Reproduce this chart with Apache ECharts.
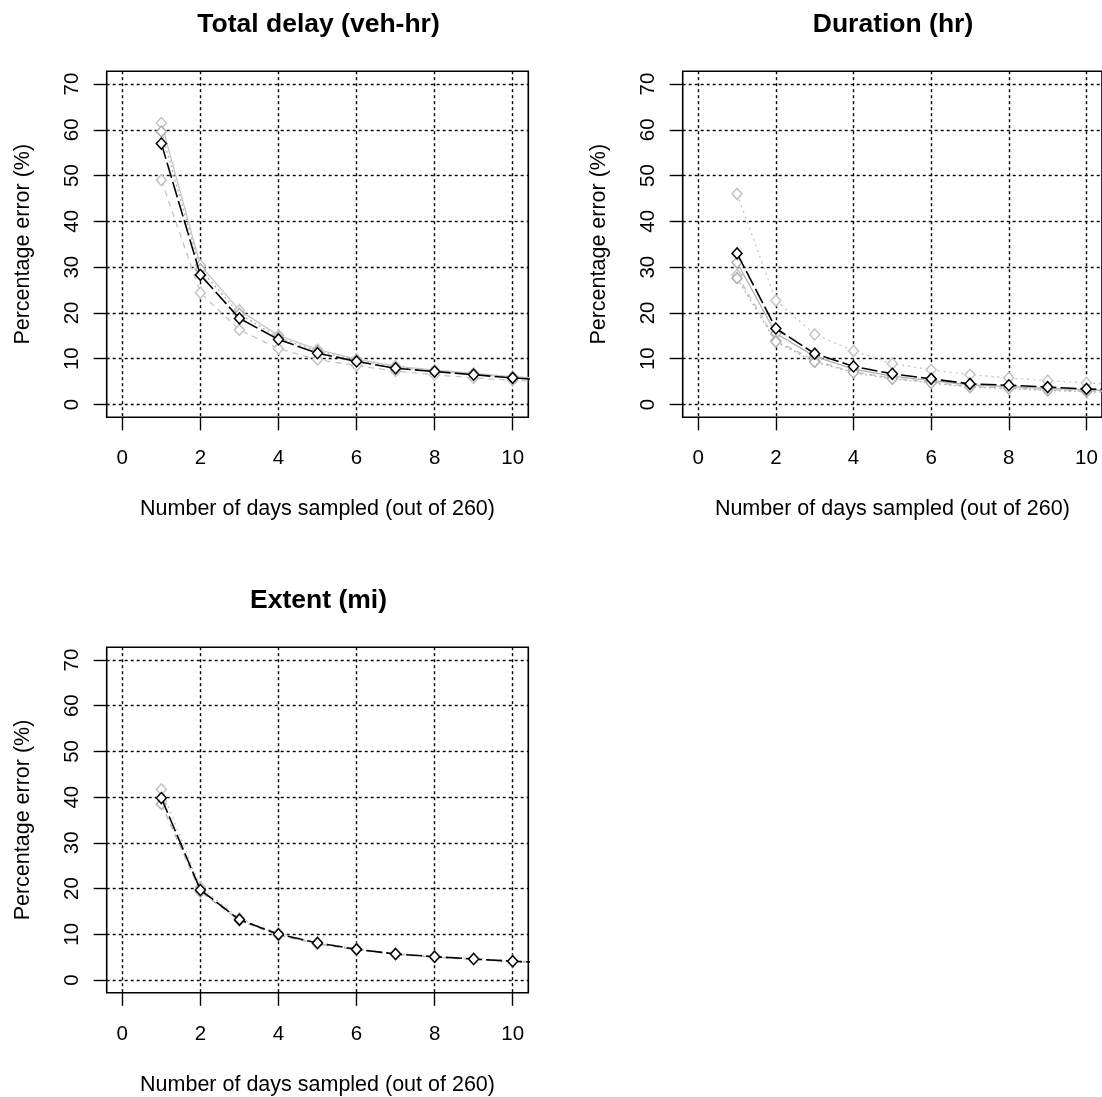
<!DOCTYPE html>
<html>
<head>
<meta charset="utf-8">
<script src="https://cdn.jsdelivr.net/npm/echarts@6/dist/echarts.min.js"></script>
<style>
  html, body { margin: 0; padding: 0; background: #fff; }
  #chart { width: 1102px; height: 1097px; }
</style>
</head>
<body>
<div id="chart"></div>
<script>
// Number of days sampled (out of 260); day 11 runs past the plot edge and is clipped
const days = [1, 2, 3, 4, 5, 6, 7, 8, 9, 10, 11];

// Percentage error (%) — Total delay (veh-hr)
const delayAll   = [57.0, 28.3, 18.8, 14.2, 11.2, 9.4, 7.9, 7.2, 6.5, 5.8, 5.3];
const delayGrpA  = [61.5, 30.4, 20.6, 15.1, 12.0, 9.9, 8.4, 7.5, 6.8, 6.1, 5.6];
const delayGrpB  = [59.6, 29.5, 19.8, 14.6, 11.6, 9.6, 8.1, 7.3, 6.6, 5.9, 5.4];
const delayGrpC  = [49.0, 24.4, 16.3, 12.2, 9.8, 8.5, 7.3, 6.5, 5.8, 5.3, 4.9];

// Percentage error (%) — Duration (hr)
const durAll     = [33.0, 16.6, 11.1, 8.3, 6.7, 5.6, 4.5, 4.2, 3.8, 3.4, 3.1];
const durGrpA    = [46.0, 22.7, 15.3, 11.7, 8.9, 7.6, 6.5, 5.8, 5.2, 4.7, 4.3];
const durGrpB    = [31.0, 15.5, 10.5, 7.7, 6.2, 5.2, 4.3, 3.9, 3.5, 3.2, 2.9];
const durGrpC    = [28.3, 14.0, 9.6, 7.1, 5.8, 4.9, 3.9, 3.6, 3.2, 2.9, 2.7];
const durGrpD    = [27.6, 13.7, 9.3, 7.0, 5.6, 4.7, 3.8, 3.5, 3.1, 2.8, 2.6];

// Percentage error (%) — Extent (mi)
const extAll     = [39.8, 19.7, 13.2, 10.0, 8.1, 6.7, 5.7, 5.1, 4.6, 4.1, 3.8];
const extGrpA    = [41.7, 20.3, 13.5, 10.2, 8.2, 6.8, 5.8, 5.2, 4.7, 4.2, 3.9];
const extGrpB    = [38.5, 19.3, 13.0, 9.8, 7.9, 6.6, 5.6, 5.0, 4.5, 4.0, 3.7];

// Axis ticks
const xTicks = [0, 2, 4, 6, 8, 10];
const yTicks = [0, 10, 20, 30, 40, 50, 60, 70];

const panelTitles = ['Total delay (veh-hr)', 'Duration (hr)', 'Extent (mi)'];
const xTitle = 'Number of days sampled (out of 260)';
const yTitle = 'Percentage error (%)';

const FONT = '"Liberation Sans", Arial, sans-serif';

// Plot boxes: x range 0–10 and y range 0–70, each padded by 4%
const grids = [
  { left: 106.7, top: 71.2, width: 421.6, height: 346.1 },
  { left: 682.7, top: 71.2, width: 421.6, height: 346.1 },
  { left: 106.7, top: 647.2, width: 421.6, height: 345.6 }
];

const tickLine = { color: '#000', width: 1.4 };
const gridDots = { color: '#000', width: 1.4, type: [3, 3] };

function xAxisFor(i) {
  return {
    type: 'value', gridIndex: i, min: -0.4, max: 10.4,
    axisLine: { show: false, onZero: false },
    axisTick: { show: true, length: 13, lineStyle: tickLine, customValues: xTicks },
    axisLabel: { customValues: xTicks, margin: 31, color: '#000', fontSize: 20.5, fontFamily: FONT },
    splitLine: { show: true, lineStyle: gridDots },
    name: xTitle, nameLocation: 'middle', nameGap: 81,
    nameTextStyle: { color: '#000', fontSize: 21.5, fontFamily: FONT }
  };
}
function yAxisFor(i) {
  return {
    type: 'value', gridIndex: i, min: -2.8, max: 72.8,
    axisLine: { show: false, onZero: false },
    axisTick: { show: true, length: 13, lineStyle: tickLine, customValues: yTicks },
    axisLabel: { customValues: yTicks, rotate: 90, margin: 24, color: '#000', fontSize: 20.5, fontFamily: FONT },
    splitLine: { show: true, lineStyle: gridDots },
    name: yTitle, nameLocation: 'middle', nameGap: 73, nameRotate: 90,
    nameTextStyle: { color: '#000', fontSize: 21.5, fontFamily: FONT }
  };
}

function curve(panel, values, color, lineType, width, z) {
  return {
    type: 'line', xAxisIndex: panel, yAxisIndex: panel,
    data: days.map((d, k) => [d, values[k]]),
    symbol: 'diamond', symbolSize: [10, 11], showSymbol: true, clip: true,
    lineStyle: { color: color, width: width, type: lineType },
    itemStyle: { color: '#fff', borderColor: color, borderWidth: 1.5 },
    emphasis: { disabled: true }, silent: true, z: z
  };
}

const LIGHT = '#c4c4c4';
const MID = '#b0b0b0';
const longDash = [16, 4];

const series = [
  // Total delay
  curve(0, delayGrpC, LIGHT, [6, 5], 1.3, 2),
  curve(0, delayGrpA, LIGHT, 'solid', 1.3, 2),
  curve(0, delayGrpB, MID, [2, 3], 1.3, 2),
  curve(0, delayAll, '#000', longDash, 1.6, 5),
  // Duration
  curve(1, durGrpA, LIGHT, [2, 4], 1.3, 2),
  curve(1, durGrpB, MID, 'solid', 1.3, 2),
  curve(1, durGrpC, LIGHT, [6, 5], 1.3, 2),
  curve(1, durGrpD, MID, [2, 3], 1.3, 2),
  curve(1, durAll, '#000', longDash, 1.6, 5),
  // Extent
  curve(2, extGrpA, LIGHT, [2, 4], 1.3, 2),
  curve(2, extGrpB, MID, [6, 5], 1.3, 2),
  curve(2, extAll, '#000', longDash, 1.6, 5)
];

const titleCenters = [
  { left: 317.5, top: 6 },
  { left: 892, top: 6 },
  { left: 317.5, top: 582 }
];

const option = {
  backgroundColor: '#fff',
  animation: false,
  title: panelTitles.map((t, i) => ({
    text: t, left: titleCenters[i].left - 4, top: titleCenters[i].top, textAlign: 'center',
    textStyle: { color: '#000', fontSize: 26.5, fontWeight: 'bold', fontFamily: FONT }
  })),
  grid: grids.map(g => Object.assign({ show: true, borderColor: '#000', borderWidth: 1.6, backgroundColor: 'transparent', containLabel: false }, g)),
  xAxis: [0, 1, 2].map(xAxisFor),
  yAxis: [0, 1, 2].map(yAxisFor),
  series: series
};

const chart = echarts.init(document.getElementById('chart'), null, { renderer: 'canvas' });
chart.setOption(option);
</script>
</body>
</html>
